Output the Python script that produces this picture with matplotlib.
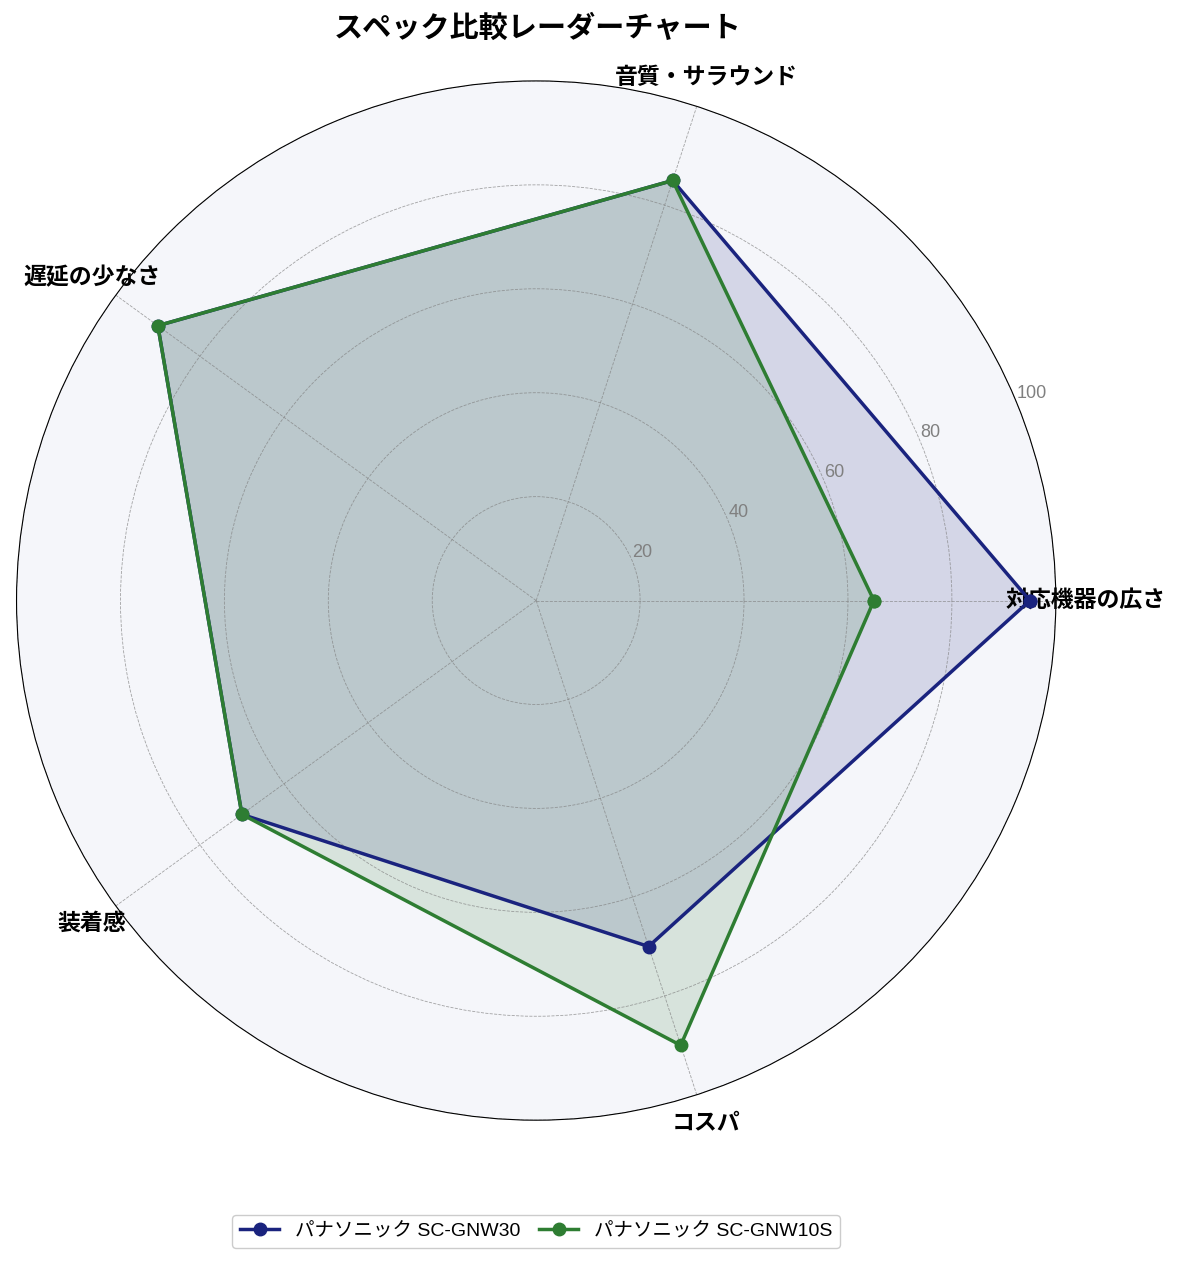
import numpy as np
import matplotlib
matplotlib.use('Agg')
import matplotlib.pyplot as plt

plt.rcParams['font.family'] = ['Liberation Sans', 'Noto Sans CJK JP']

categories = ['対応機器の広さ', '音質・サラウンド', '遅延の少なさ', '装着感', 'コスパ']
gnw30 = [95, 85, 90, 70, 70]
gnw10s = [65, 85, 90, 70, 90]
series_names = ['パナソニック SC-GNW30', 'パナソニック SC-GNW10S']
colors = ['#1a237e', '#2e7d32']

n = len(categories)
angles = np.linspace(0, 2 * np.pi, n, endpoint=False).tolist()
angles_closed = angles + angles[:1]

fig = plt.figure(figsize=(11.81, 12.63), dpi=100)
ax = fig.add_axes([0.014, 0.112, 0.88, 0.825], polar=True)
ax.set_facecolor('#f5f6fa')

for vals, name, c in zip([gnw30, gnw10s], series_names, colors):
    v = vals + vals[:1]
    ax.plot(angles_closed, v, color=c, linewidth=2.5, marker='o', markersize=9, label=name)
    ax.fill(angles_closed, v, color=c, alpha=0.15)

ax.set_ylim(0, 100)
ax.set_yticks([20, 40, 60, 80, 100])
ax.set_yticklabels(['20', '40', '60', '80', '100'], color='gray', fontsize=13)
ax.set_rlabel_position(22.5)
ax.set_xticks(angles)
ax.set_xticklabels(categories, fontsize=16.5, fontweight='bold')
ax.tick_params(axis='x', pad=11)
ax.grid(color='gray', linestyle='--', linewidth=0.6, alpha=0.7)

fig.text(0.455, 1 - 29 / 1263, 'スペック比較レーダーチャート', fontsize=21,
         fontweight='bold', ha='center', va='center')

fig.legend(loc='lower center', bbox_to_anchor=(0.454, 15 / 1263), ncol=2, fontsize=14,
           columnspacing=1.0, borderaxespad=0, framealpha=1, edgecolor='#cccccc')

fig.savefig('out.png', dpi=100)
